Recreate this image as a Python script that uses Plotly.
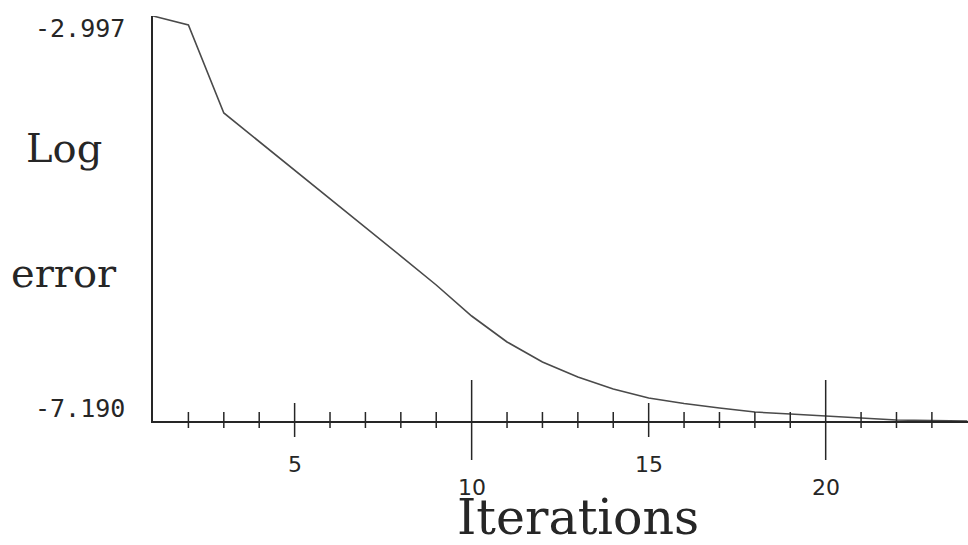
import plotly.graph_objects as go

# Convergence history: log error per iteration
iterations = list(range(1, 25))
log_error = [
    -2.997, -3.090, -4.001, -4.296, -4.591, -4.892, -5.181, -5.482,
    -5.782, -6.103, -6.372, -6.579, -6.734, -6.859, -6.952, -7.009,
    -7.055, -7.097, -7.118, -7.138, -7.164, -7.180, -7.185, -7.190,
]

y_top = -2.997
y_bottom = -7.190
y_tick_labels = ["-2.997", "-7.190"]

minor_ticks = [i for i in range(2, 24) if i % 5 != 0]
mid_ticks = [5, 15]
long_ticks = [10, 20]
x_tick_labels = {5: "5", 10: "10", 15: "15", 20: "20"}

ink = "#262626"
W, H = 968, 545
ml, mr, mt, mb = 153, 0, 16, 124
plot_w = W - ml - mr
plot_h = H - mt - mb


def px_x(px):
    """Horizontal pixel position -> paper fraction of the plot area."""
    return (px - ml) / plot_w


def px_y(py):
    """Vertical pixel position (from top) -> paper fraction of the plot area."""
    return (H - mb - py) / plot_h


fig = go.Figure()
fig.add_trace(go.Scatter(
    x=iterations, y=log_error, mode="lines",
    line=dict(color="#4a4a4a", width=1.6),
    hoverinfo="skip", showlegend=False,
))

# Tick marks crossing the horizontal axis (lengths in pixels above/below)
def tick(x, up, down):
    fig.add_shape(type="line", xref="x", yref="paper",
                  x0=x, x1=x, y0=-down / plot_h, y1=up / plot_h,
                  line=dict(color=ink, width=1.5))

for t in minor_ticks:
    tick(t, 9, 7)
for t in mid_ticks:
    tick(t, 18, 16)
for t in long_ticks:
    tick(t, 41, 39)

mono = "DejaVu Sans Mono"
sans = "DejaVu Sans"
serif = "DejaVu Serif"

# x tick labels, staggered at two heights
for t, lab in x_tick_labels.items():
    drop = 43 if t in mid_ticks else 66
    fig.add_annotation(x=t, xref="x", y=0, yref="paper", text=lab,
                       showarrow=False, xanchor="center", yanchor="middle",
                       yshift=-drop, font=dict(family=sans, size=22, color=ink))

# y extremes
fig.add_annotation(x=px_x(127), xref="paper", y=y_top, yref="y",
                   text=y_tick_labels[0], showarrow=False,
                   xanchor="right", yanchor="top", yshift=4,
                   font=dict(family=mono, size=25, color=ink))
fig.add_annotation(x=px_x(127), xref="paper", y=y_bottom, yref="y",
                   text=y_tick_labels[1], showarrow=False,
                   xanchor="right", yanchor="bottom", yshift=-4,
                   font=dict(family=mono, size=25, color=ink))

# Axis titles
fig.add_annotation(x=px_x(64), xref="paper", y=px_y(148), yref="paper",
                   text="Log", showarrow=False, xanchor="center", yanchor="middle",
                   font=dict(family=serif, size=40, color=ink))
fig.add_annotation(x=px_x(64), xref="paper", y=px_y(273), yref="paper",
                   text="error", showarrow=False, xanchor="center", yanchor="middle",
                   font=dict(family=serif, size=40, color=ink))
fig.add_annotation(x=px_x(578), xref="paper", y=px_y(517), yref="paper",
                   text="Iterations", showarrow=False, xanchor="center", yanchor="middle",
                   font=dict(family=serif, size=49, color=ink))

fig.update_layout(
    width=W, height=H,
    margin=dict(l=ml, r=mr, t=mt, b=mb),
    paper_bgcolor="white", plot_bgcolor="white",
    xaxis=dict(range=[1, 24.02], showgrid=False, zeroline=False,
               showline=True, linecolor=ink, linewidth=1.5,
               showticklabels=False, ticks=""),
    yaxis=dict(range=[y_bottom, y_top], showgrid=False, zeroline=False,
               showline=True, linecolor=ink, linewidth=1.5,
               showticklabels=False, ticks=""),
)

fig.write_html("out.html")
